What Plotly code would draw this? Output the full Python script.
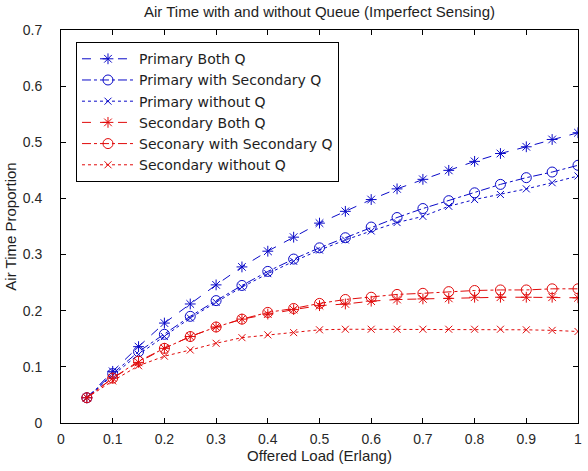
import plotly.graph_objects as go

load = [0.05, 0.1, 0.15, 0.2, 0.25, 0.3, 0.35, 0.4, 0.45, 0.5,
        0.55, 0.6, 0.65, 0.7, 0.75, 0.8, 0.85, 0.9, 0.95, 1.0]

primary_both = [0.045, 0.092, 0.136, 0.178, 0.212, 0.246, 0.278, 0.306, 0.331, 0.356,
                0.377, 0.398, 0.417, 0.434, 0.450, 0.466, 0.480, 0.492, 0.505, 0.517]
primary_secq = [0.045, 0.088, 0.127, 0.158, 0.190, 0.218, 0.245, 0.270, 0.292, 0.312,
                0.330, 0.349, 0.366, 0.382, 0.396, 0.410, 0.425, 0.437, 0.447, 0.459]
primary_noq = [0.045, 0.085, 0.122, 0.154, 0.187, 0.215, 0.242, 0.266, 0.288, 0.308,
               0.326, 0.342, 0.357, 0.368, 0.386, 0.398, 0.407, 0.417, 0.428, 0.440]
secondary_both = [0.045, 0.080, 0.108, 0.133, 0.154, 0.171, 0.185, 0.194, 0.202, 0.209,
                  0.212, 0.217, 0.220, 0.221, 0.222, 0.224, 0.224, 0.224, 0.224, 0.223]
secondary_secq = [0.045, 0.080, 0.110, 0.133, 0.154, 0.171, 0.185, 0.197, 0.204, 0.213,
                  0.220, 0.224, 0.229, 0.231, 0.234, 0.236, 0.237, 0.237, 0.239, 0.239]
secondary_noq = [0.045, 0.075, 0.102, 0.119, 0.130, 0.142, 0.152, 0.157, 0.161, 0.166,
                 0.167, 0.167, 0.167, 0.167, 0.167, 0.167, 0.167, 0.166, 0.165, 0.163]

names = ["Primary Both Q", "Primary with Secondary Q", "Primary without Q",
         "Secondary Both Q", "Seconary with Secondary Q", "Secondary without Q"]
x_ticks = [0, 0.1, 0.2, 0.3, 0.4, 0.5, 0.6, 0.7, 0.8, 0.9, 1]
x_ticktext = ["0", "0.1", "0.2", "0.3", "0.4", "0.5", "0.6", "0.7", "0.8", "0.9", "1"]
y_ticks = [0, 0.1, 0.2, 0.3, 0.4, 0.5, 0.6, 0.7]
y_ticktext = ["0", "0.1", "0.2", "0.3", "0.4", "0.5", "0.6", "0.7"]

BLUE = "rgb(10,10,200)"
RED = "rgb(225,10,10)"
TXT = "rgb(30,30,30)"

series = [
    (primary_both, BLUE, "dash", "asterisk-open", 9),
    (primary_secq, BLUE, "dashdot", "circle-open", 10),
    (primary_noq, BLUE, "dot", "x-thin-open", 7),
    (secondary_both, RED, "dash", "asterisk-open", 9),
    (secondary_secq, RED, "dashdot", "circle-open", 10),
    (secondary_noq, RED, "dot", "x-thin-open", 7),
]

fig = go.Figure()
for name, (vals, col, dash, sym, size) in zip(names, series):
    fig.add_trace(go.Scatter(
        x=load, y=vals, name=name, mode="lines+markers",
        line=dict(color=col, width=1, dash=dash),
        marker=dict(symbol=sym, size=size, color=col, line=dict(color=col, width=1)),
    ))

axis_common = dict(
    showline=True, linecolor="black", linewidth=1, mirror="ticks",
    ticks="inside", ticklen=5, tickcolor="black", showgrid=False, zeroline=False,
    tickfont=dict(size=14, color="rgb(40,40,40)"),
)

fig.update_layout(
    width=588, height=471,
    margin=dict(l=61, r=6, t=30, b=48),
    paper_bgcolor="white", plot_bgcolor="white",
    font=dict(family="Liberation Sans, Arial, sans-serif", size=12, color="black"),
    title=dict(text="Air Time with and without Queue (Imperfect Sensing)",
               x=0.5, xanchor="center", xref="paper", y=0.987, yanchor="top",
               font=dict(size=15, color=TXT)),
    xaxis=dict(range=[0, 1], tickvals=x_ticks, ticktext=x_ticktext,
               ticklabelstandoff=3,
               title=dict(text="Offered Load (Erlang)", standoff=2,
                          font=dict(size=15, color=TXT)),
               **axis_common),
    yaxis=dict(range=[0, 0.7], tickvals=y_ticks, ticktext=y_ticktext,
               ticklabelstandoff=15,
               title=dict(text="Air Time Proportion", standoff=2,
                          font=dict(size=15, color=TXT)),
               **axis_common),
    legend=dict(x=0.029, y=0.969, xanchor="left", yanchor="top",
                bgcolor="white", bordercolor="black", borderwidth=1,
                font=dict(family="DejaVu Sans, sans-serif", size=14, color=TXT),
                itemwidth=52),
    showlegend=True,
)

fig.write_html("out.html")
